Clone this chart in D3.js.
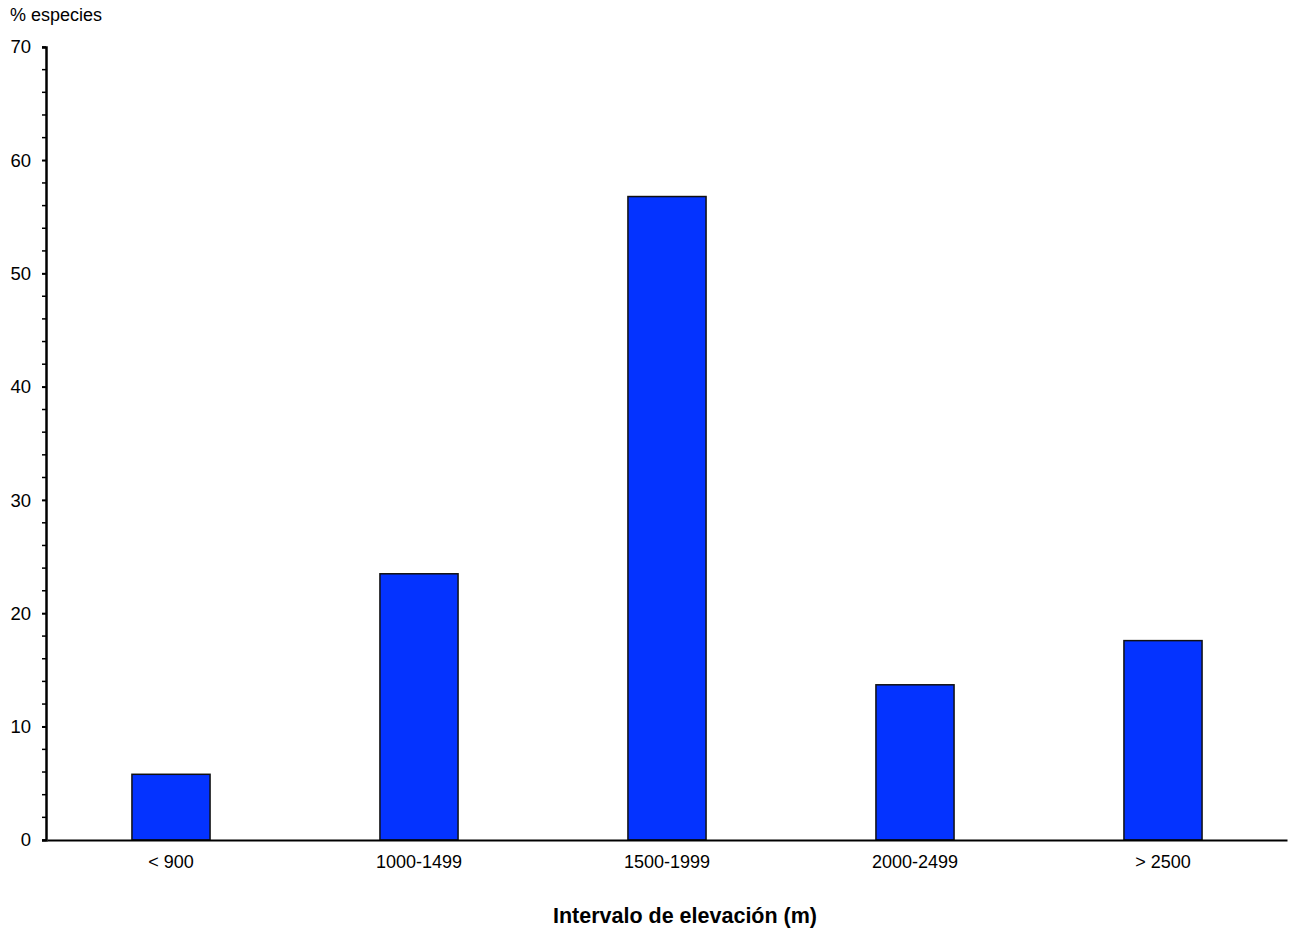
<!DOCTYPE html>
<html><head><meta charset="utf-8">
<script src="https://cdn.jsdelivr.net/npm/d3@7"></script>
<style>body{margin:0;background:#fff}svg{display:block}text{font-family:"Liberation Sans",Arial,sans-serif}</style>
</head><body>
<script>
const categories = ["< 900","1000-1499","1500-1999","2000-2499","> 2500"];
const values = [5.8, 23.5, 56.8, 13.7, 17.6];
const yTicks = [0,10,20,30,40,50,60,70];
const yLabel = "% especies";
const xLabel = "Intervalo de elevación (m)";

const W=1303,H=932;
const svg=d3.select("body").append("svg").attr("width",W).attr("height",H);
const x0=46,x1=1286,y0=840,y1=47;
const x=d3.scaleBand().domain(categories).range([x0+1,x1+1]).paddingInner(0.685).paddingOuter(0.3425);
const y=d3.scaleLinear().domain([0,70]).range([y0,y1]);

// minor ticks
const minor=d3.range(0,71,2);
svg.append("g").selectAll("line").data(minor).join("line")
 .attr("x1",x0-4).attr("x2",x0).attr("y1",d=>y(d)).attr("y2",d=>y(d))
 .attr("stroke","#000").attr("stroke-width",1.5);

const yAxis=svg.append("g").attr("transform",`translate(${x0},0)`)
 .call(d3.axisLeft(y).tickValues(yTicks).tickSize(4).tickPadding(11));
yAxis.select(".domain").attr("stroke-width",2.5);
yAxis.selectAll(".tick line").attr("stroke-width",1.5);
yAxis.selectAll("text").attr("font-size",18.5).attr("fill","#000");

svg.append("g").selectAll("rect").data(values).join("rect")
 .attr("x",(d,i)=>x(categories[i])).attr("width",x.bandwidth())
 .attr("y",d=>y(d)).attr("height",d=>y0-y(d))
 .attr("fill","#0433FF").attr("stroke","#111").attr("stroke-width",1.5);

const xAxis=svg.append("g").attr("transform",`translate(0,${y0})`)
 .call(d3.axisBottom(x).tickSize(0).tickPadding(15));
xAxis.select(".domain").attr("stroke-width",2);
xAxis.selectAll("text").attr("font-size",18).attr("fill","#000");

svg.append("text").attr("x",10).attr("y",21).attr("font-size",18).text(yLabel);
svg.append("text").attr("x",685).attr("y",923).attr("text-anchor","middle")
 .attr("font-size",21.5).attr("font-weight","bold").text(xLabel);
</script>
</body></html>
